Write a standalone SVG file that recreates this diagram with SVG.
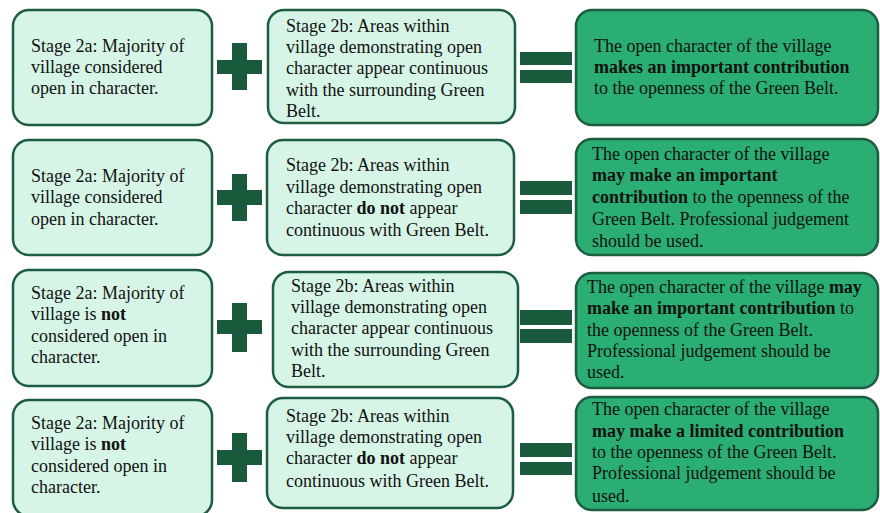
<svg xmlns="http://www.w3.org/2000/svg" width="880" height="513" viewBox="0 0 880 513">
<style>
.a{fill:#d6f5e6;stroke:#1d5e42;stroke-width:2.5}
.c{fill:#2aae73;stroke:#1d5e42;stroke-width:2.5}
.s{fill:#1a5a3c}
text{font-family:"Liberation Serif","Times New Roman",serif;font-size:18px;fill:#111}
.b{font-weight:bold}
</style>
<rect width="880" height="513" fill="#fff"/>
<g id="ops">
<path class="s" d="M232 43h15v17h15v14h-15v16h-15v-16h-15v-14h15z"/>
<rect class="s" x="520" y="52" width="52" height="13"/><rect class="s" x="520" y="70" width="52" height="13"/>
<path class="s" d="M232 174h15v16h15v15h-15v16h-15v-16h-15v-15h15z"/>
<rect class="s" x="520" y="181" width="52" height="14"/><rect class="s" x="520" y="200" width="52" height="14"/>
<path class="s" d="M232 303h15v17h15v14h-15v18h-15v-18h-15v-14h15z"/>
<rect class="s" x="520" y="310" width="52" height="15"/><rect class="s" x="520" y="329" width="52" height="14"/>
<path class="s" d="M232 433h15v17h15v15h-15v17h-15v-17h-15v-15h15z"/>
<rect class="s" x="520" y="443" width="52" height="14"/><rect class="s" x="520" y="462" width="52" height="13"/>
</g>
<g id="r1a"><rect class="a" x="13" y="10" width="199" height="115" rx="16"/>
<text x="31" y="52">Stage 2a: Majority of</text><text x="31" y="73">village considered</text><text x="31" y="94">open in character.</text></g>
<g id="r1b"><rect class="a" x="268" y="10" width="247" height="113" rx="16"/>
<text x="286" y="32">Stage 2b: Areas within</text><text x="286" y="53">village demonstrating open</text><text x="286" y="74">character appear continuous</text><text x="286" y="96">with the surrounding Green</text><text x="286" y="117">Belt.</text></g>
<g id="r1c"><rect class="c" x="576" y="10" width="302" height="115" rx="16"/>
<text x="594" y="52">The open character of the village</text><text x="594" y="73" class="b">makes an important contribution</text><text x="594" y="94">to the openness of the Green Belt.</text></g>
<g id="r2a"><rect class="a" x="13" y="140" width="199" height="115" rx="16"/>
<text x="31" y="182">Stage 2a: Majority of</text><text x="31" y="203">village considered</text><text x="31" y="225">open in character.</text></g>
<g id="r2b"><rect class="a" x="267" y="140" width="247" height="115" rx="16"/>
<text x="286" y="171">Stage 2b: Areas within</text><text x="286" y="193">village demonstrating open</text><text x="286" y="214">character <tspan class="b">do not</tspan> appear</text><text x="286" y="236">continuous with Green Belt.</text></g>
<g id="r2c"><rect class="c" x="576" y="139" width="302" height="116" rx="16"/>
<text x="592" y="160">The open character of the village</text><text x="592" y="181" class="b">may make an important</text><text x="592" y="203"><tspan class="b">contribution</tspan> to the openness of the</text><text x="592" y="225">Green Belt. Professional judgement</text><text x="592" y="247">should be used.</text></g>
<g id="r3a"><rect class="a" x="13" y="270" width="199" height="116" rx="16"/>
<text x="31" y="299">Stage 2a: Majority of</text><text x="31" y="320">village is <tspan class="b">not</tspan></text><text x="31" y="342">considered open in</text><text x="31" y="363">character.</text></g>
<g id="r3b"><rect class="a" x="273" y="272" width="245" height="115" rx="16"/>
<text x="291" y="292">Stage 2b: Areas within</text><text x="291" y="313">village demonstrating open</text><text x="291" y="334">character appear continuous</text><text x="291" y="356">with the surrounding Green</text><text x="291" y="377">Belt.</text></g>
<g id="r3c"><rect class="c" x="576" y="273" width="302" height="115" rx="16"/>
<text x="587" y="293">The open character of the village <tspan class="b">may</tspan></text><text x="587" y="314"><tspan class="b">make an important contribution</tspan> to</text><text x="587" y="336">the openness of the Green Belt.</text><text x="587" y="357">Professional judgement should be</text><text x="587" y="378">used.</text></g>
<g id="r4a"><rect class="a" x="13" y="400" width="199" height="116" rx="16"/>
<text x="31" y="429">Stage 2a: Majority of</text><text x="31" y="450">village is <tspan class="b">not</tspan></text><text x="31" y="472">considered open in</text><text x="31" y="493">character.</text></g>
<g id="r4b"><rect class="a" x="267" y="398" width="246" height="110" rx="16"/>
<text x="286" y="422">Stage 2b: Areas within</text><text x="286" y="443">village demonstrating open</text><text x="286" y="464">character <tspan class="b">do not</tspan> appear</text><text x="286" y="487">continuous with Green Belt.</text></g>
<g id="r4c"><rect class="c" x="576" y="397" width="302" height="113" rx="16"/>
<text x="592" y="415">The open character of the village</text><text x="592" y="437" class="b">may make a limited contribution</text><text x="592" y="458">to the openness of the Green Belt.</text><text x="592" y="479">Professional judgement should be</text><text x="592" y="502">used.</text></g>
</svg>
